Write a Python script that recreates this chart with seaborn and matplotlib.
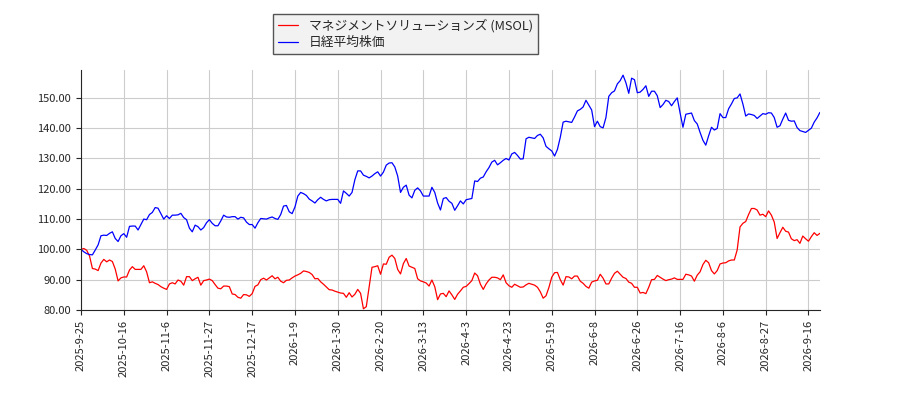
"""
Relative price chart: MSOL vs Nikkei average (both rebased to 100).
"""

import numpy as np
import pandas as pd
import seaborn as sns
import matplotlib
matplotlib.use('Agg')
import matplotlib.pyplot as plt
from matplotlib.ticker import FormatStrFormatter

# series names
stock_name = 'マネジメントソリューションズ (MSOL)'
index_name = '日経平均株価'

# tick labels, one every 15 trading days
tick_labels = ['2025-9-25', '2025-10-16', '2025-11-6', '2025-11-27',
               '2025-12-17', '2026-1-9', '2026-1-30', '2026-2-20',
               '2026-3-13', '2026-4-3', '2026-4-23', '2026-5-19',
               '2026-6-8', '2026-6-26', '2026-7-16', '2026-8-6',
               '2026-8-27', '2026-9-16']

# MSOL, rebased
stock_values = [
    100.0, 100.3, 99.7, 97.8, 93.7, 93.5, 93.0, 95.5, 96.7, 95.9,
    96.5, 96.0, 93.5, 89.6, 90.6, 90.9, 90.9, 93.2, 94.3, 93.4,
    93.4, 93.4, 94.6, 92.6, 89.0, 89.3, 88.8, 88.4, 87.7, 87.2,
    86.8, 88.6, 89.0, 88.6, 89.9, 89.5, 88.2, 91.0, 91.0, 89.7,
    90.3, 90.8, 88.2, 89.7, 89.9, 90.2, 89.7, 88.4, 87.2, 87.0,
    87.9, 87.9, 87.7, 85.3, 85.1, 84.2, 83.9, 85.1, 85.0, 84.5,
    85.4, 87.8, 88.3, 90.0, 90.5, 89.9, 90.6, 91.3, 90.3, 90.8,
    89.5, 89.0, 89.8, 89.9, 90.6, 91.2, 91.6, 92.1, 92.9, 92.7,
    92.4, 91.7, 90.3, 90.4, 89.3, 88.5, 87.6, 86.7, 86.6, 86.2,
    85.9, 85.6, 85.5, 84.2, 85.7, 84.3, 85.2, 86.8, 85.5, 80.4,
    81.1, 87.7, 94.1, 94.3, 94.6, 91.8, 95.2, 95.1, 97.4, 98.1,
    97.0, 93.4, 91.9, 95.3, 97.0, 94.5, 94.1, 93.7, 90.3, 89.6,
    89.3, 88.9, 87.9, 89.9, 87.7, 83.4, 85.3, 85.5, 84.4, 86.3,
    85.0, 83.5, 85.2, 86.3, 87.5, 87.8, 88.7, 89.7, 92.2, 91.3,
    88.5, 86.8, 88.6, 89.9, 90.8, 90.8, 90.6, 90.0, 91.6, 89.0,
    88.0, 87.5, 88.5, 88.0, 87.5, 87.6, 88.3, 88.8, 88.5, 88.2,
    87.5, 86.0, 83.9, 84.7, 87.4, 90.8, 92.3, 92.4, 90.0, 88.2,
    91.0, 90.9, 90.3, 91.2, 91.2, 89.5, 88.8, 87.8, 87.2, 89.2,
    89.6, 89.8, 91.8, 90.5, 88.6, 88.6, 90.5, 92.1, 92.8, 91.8,
    90.8, 90.4, 89.2, 88.8, 87.5, 87.5, 85.6, 85.8, 85.4, 87.5,
    90.0, 90.1, 91.4, 90.8, 90.2, 89.7, 90.0, 90.2, 90.6, 90.1,
    90.1, 90.1, 91.8, 91.6, 91.2, 89.5, 91.5, 92.6, 95.0, 96.4,
    95.6, 93.0, 91.9, 93.0, 95.2, 95.5, 95.6, 96.2, 96.5, 96.5,
    99.8, 107.4, 108.6, 109.2, 111.5, 113.5, 113.5, 113.0, 111.3, 111.6,
    110.8, 112.7, 111.3, 109.0, 103.6, 105.5, 107.3, 106.0, 105.7, 103.5,
    102.9, 103.2, 102.0, 104.4, 103.5, 102.7, 104.2, 105.5, 104.6, 105.3,
]

# Nikkei average, rebased
index_values = [
    100.0, 99.2, 98.6, 98.3, 98.2, 99.8, 101.5, 104.5, 104.7, 104.6,
    105.3, 105.8, 103.6, 102.6, 104.5, 105.2, 104.0, 107.6, 107.7, 107.7,
    106.4, 108.2, 110.0, 109.8, 111.5, 112.2, 113.8, 113.6, 111.8, 110.0,
    111.1, 110.2, 111.3, 111.3, 111.4, 111.9, 110.5, 109.8, 107.0, 105.8,
    108.0, 107.5, 106.4, 107.2, 108.8, 109.8, 108.6, 107.8, 107.8, 109.4,
    111.3, 110.7, 110.6, 110.8, 110.8, 110.0, 110.6, 110.4, 109.0, 108.2,
    108.2, 107.0, 108.8, 110.2, 110.1, 110.0, 110.4, 110.7, 110.2, 109.9,
    111.5, 114.3, 114.5, 112.4, 111.8, 114.0, 117.6, 118.8, 118.4, 117.8,
    116.6, 116.0, 115.3, 116.4, 117.2, 116.5, 116.0, 116.4, 116.5, 116.5,
    116.5, 115.2, 119.3, 118.5, 117.6, 118.8, 123.0, 125.9, 125.9, 124.5,
    124.1, 123.6, 124.2, 125.0, 125.6, 124.2, 125.5, 127.8, 128.5, 128.6,
    127.2, 124.2, 118.8, 120.5, 121.2, 117.9, 117.0, 119.5, 120.3, 119.3,
    117.6, 117.6, 117.6, 120.5, 118.8, 115.3, 113.0, 116.8, 117.1, 115.9,
    115.2, 112.9, 114.4, 116.0, 115.0, 116.4, 116.6, 116.8, 122.6, 122.4,
    123.5, 123.9, 125.6, 127.0, 128.8, 129.4, 127.9, 128.6, 129.4, 130.0,
    129.5, 131.5, 132.0, 131.0, 129.8, 129.9, 136.5, 137.0, 136.8, 136.6,
    137.6, 138.0, 136.8, 134.0, 133.2, 132.5, 130.8, 133.0, 137.0, 142.0,
    142.3, 142.1, 141.9, 143.7, 145.7, 146.2, 147.0, 149.2, 147.6, 146.0,
    140.5, 142.3, 140.5, 140.1, 143.5, 150.5, 151.7, 152.3, 154.6, 155.7,
    157.5, 155.0, 151.5, 156.5, 156.0, 151.7, 151.9, 152.8, 154.0, 150.5,
    152.2, 152.2, 150.7, 146.8, 147.8, 149.2, 148.8, 147.4, 148.8, 150.0,
    145.0, 140.3, 144.6, 144.8, 145.0, 142.5, 141.4, 138.6, 136.0, 134.4,
    137.5, 140.3, 139.4, 139.9, 144.8, 143.5, 143.5, 146.4, 148.0, 149.8,
    150.0, 151.3, 148.0, 144.0, 144.7, 144.5, 144.2, 143.2, 144.0, 144.8,
    144.6, 145.1, 145.0, 143.5, 140.3, 140.8, 143.0, 145.0, 142.6, 142.3,
    142.4, 140.2, 139.2, 138.9, 138.6, 139.3, 140.0, 142.0, 143.4, 145.2,
]

# long table for seaborn
n = len(stock_values)
df = pd.DataFrame({
    'day': np.concatenate([np.arange(n), np.arange(len(index_values))]),
    'value': stock_values + index_values,
    'series': [stock_name] * n + [index_name] * len(index_values),
})

sns.set_style('ticks', {'axes.grid': True, 'grid.color': '#cccccc'})
plt.rcParams['font.family'] = ['Noto Sans CJK JP', 'DejaVu Sans']

fig = plt.figure(figsize=(9, 4), dpi=100)
ax = fig.add_axes([0.09, 0.225, 0.821, 0.6])

sns.lineplot(data=df, x='day', y='value', hue='series',
             palette={stock_name: 'red', index_name: 'blue'},
             linewidth=0.9, ax=ax)

ax.set_xlim(0, n - 1)
ax.set_ylim(80, 159.2)
ax.set_xticks(np.arange(0, n, 15)[:len(tick_labels)])
ax.set_xticklabels(tick_labels, rotation=90, fontsize=8)
ax.yaxis.set_major_formatter(FormatStrFormatter('%.2f'))
ax.tick_params(axis='y', labelsize=8)
ax.set_xlabel('')
ax.set_ylabel('')
ax.grid(True, color='#cccccc', linewidth=0.8)
sns.despine(ax=ax)

# legend above the plot area
handles, labels = ax.get_legend_handles_labels()
ax.get_legend().remove()
fig.legend(handles, labels, loc='upper left',
           bbox_to_anchor=(0.296, 0.982), fontsize=9.2,
           fancybox=False, edgecolor='#555555', facecolor='#f2f2f2',
           framealpha=1.0, handlelength=1.6, borderpad=0.4,
           labelspacing=0.3)

fig.savefig('out.png', dpi=100)
